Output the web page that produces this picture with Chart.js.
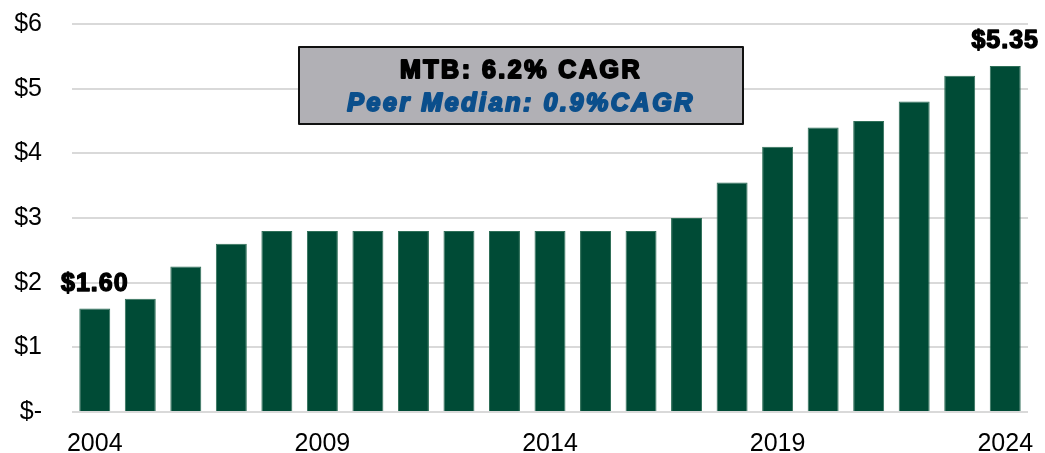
<!DOCTYPE html>
<html>
<head>
<meta charset="utf-8">
<script src="https://cdn.jsdelivr.net/npm/chart.js@4"></script>
<style>
  html, body { margin: 0; padding: 0; background: #fff; }
  #wrap { width: 1045px; height: 453px; position: relative; }
</style>
</head>
<body>
<div id="wrap"><canvas id="c"></canvas></div>
<script>
const years = ['2004','2005','2006','2007','2008','2009','2010','2011','2012','2013','2014','2015','2016','2017','2018','2019','2020','2021','2022','2023','2024'];
const dividends = [1.60,1.75,2.25,2.60,2.80,2.80,2.80,2.80,2.80,2.80,2.80,2.80,2.80,3.00,3.55,4.10,4.40,4.50,4.80,5.20,5.35];
const shownYears = ['2004','2009','2014','2019','2024'];
const yTicks = [0,1,2,3,4,5,6];
const barLabels = {0: '$1.60', 20: '$5.35'};
const boxLine1 = 'MTB: 6.2% CAGR';
const boxLine2 = 'Peer Median: 0.9%CAGR';

const FONT = '"Liberation Sans", Arial, sans-serif';

const labelPlugin = {
  id: 'labelPlugin',
  afterDatasetsDraw(chart) {
    const ctx = chart.ctx;
    const meta = chart.getDatasetMeta(0);
    ctx.save();
    ctx.font = 'bold 25px ' + FONT;
    ctx.fillStyle = '#000';
    ctx.strokeStyle = '#000';
    ctx.lineWidth = 1.4;
    ctx.lineJoin = 'round';
    ctx.textAlign = 'center';
    ctx.textBaseline = 'alphabetic';
    try { ctx.letterSpacing = '1px'; } catch (e) {}
    Object.keys(barLabels).forEach(k => {
      const el = meta.data[+k];
      ctx.fillText(barLabels[k], el.x, el.y - 18);
      ctx.strokeText(barLabels[k], el.x, el.y - 18);
    });
    // CAGR box
    const x0 = 299, y0 = 47, w = 444, h = 77;
    ctx.fillStyle = '#b1b0b5';
    ctx.fillRect(x0, y0, w, h);
    ctx.lineWidth = 2;
    ctx.strokeStyle = '#111';
    ctx.strokeRect(x0, y0, w, h);
    const cx = x0 + w / 2;
    ctx.font = 'bold 25px ' + FONT;
    try { ctx.letterSpacing = '2.5px'; } catch (e) {}
    ctx.fillStyle = '#000';
    ctx.strokeStyle = '#000';
    ctx.lineWidth = 2;
    ctx.fillText(boxLine1, cx, 78);
    ctx.strokeText(boxLine1, cx, 78);
    ctx.font = 'italic bold 25px ' + FONT;
    try { ctx.letterSpacing = '2.6px'; } catch (e) {}
    ctx.fillStyle = '#0b4f8c';
    ctx.strokeStyle = '#0b4f8c';
    ctx.fillText(boxLine2, cx, 111);
    ctx.strokeText(boxLine2, cx, 111);
    ctx.restore();
  }
};

new Chart(document.getElementById('c'), {
  type: 'bar',
  data: {
    labels: years,
    datasets: [{
      data: dividends,
      backgroundColor: '#004b36',
      borderColor: '#2f6f58',
      borderWidth: 1,
      barPercentage: 0.68,
      categoryPercentage: 1.0
    }]
  },
  options: {
    responsive: true,
    maintainAspectRatio: false,
    animation: false,
    layout: { padding: { top: 24, right: 17, left: 0, bottom: 0 } },
    plugins: { legend: { display: false }, tooltip: { enabled: false } },
    scales: {
      x: {
        grid: { display: false },
        border: { display: false },
        ticks: {
          autoSkip: false,
          maxRotation: 0,
          padding: 9,
          color: '#000',
          font: { family: FONT, size: 25 },
          callback: function(v, i) { const l = years[i]; return shownYears.includes(l) ? l : ''; }
        },
        afterFit: s => { s.height = 41; s.paddingLeft = 0; s.paddingRight = 0; }
      },
      y: {
        min: 0, max: 6,
        afterBuildTicks: s => { s.ticks = yTicks.map(v => ({ value: v })); },
        grid: { color: '#d9d9d9', lineWidth: 2, drawTicks: false },
        border: { display: false },
        ticks: {
          padding: 30,
          color: '#000',
          font: { family: FONT, size: 25 },
          callback: v => v === 0 ? '$-' : '$' + v
        },
        afterFit: s => { s.width = 72; s.paddingTop = 0; s.paddingBottom = 0; }
      }
    }
  },
  plugins: [labelPlugin]
});
</script>
</body>
</html>
